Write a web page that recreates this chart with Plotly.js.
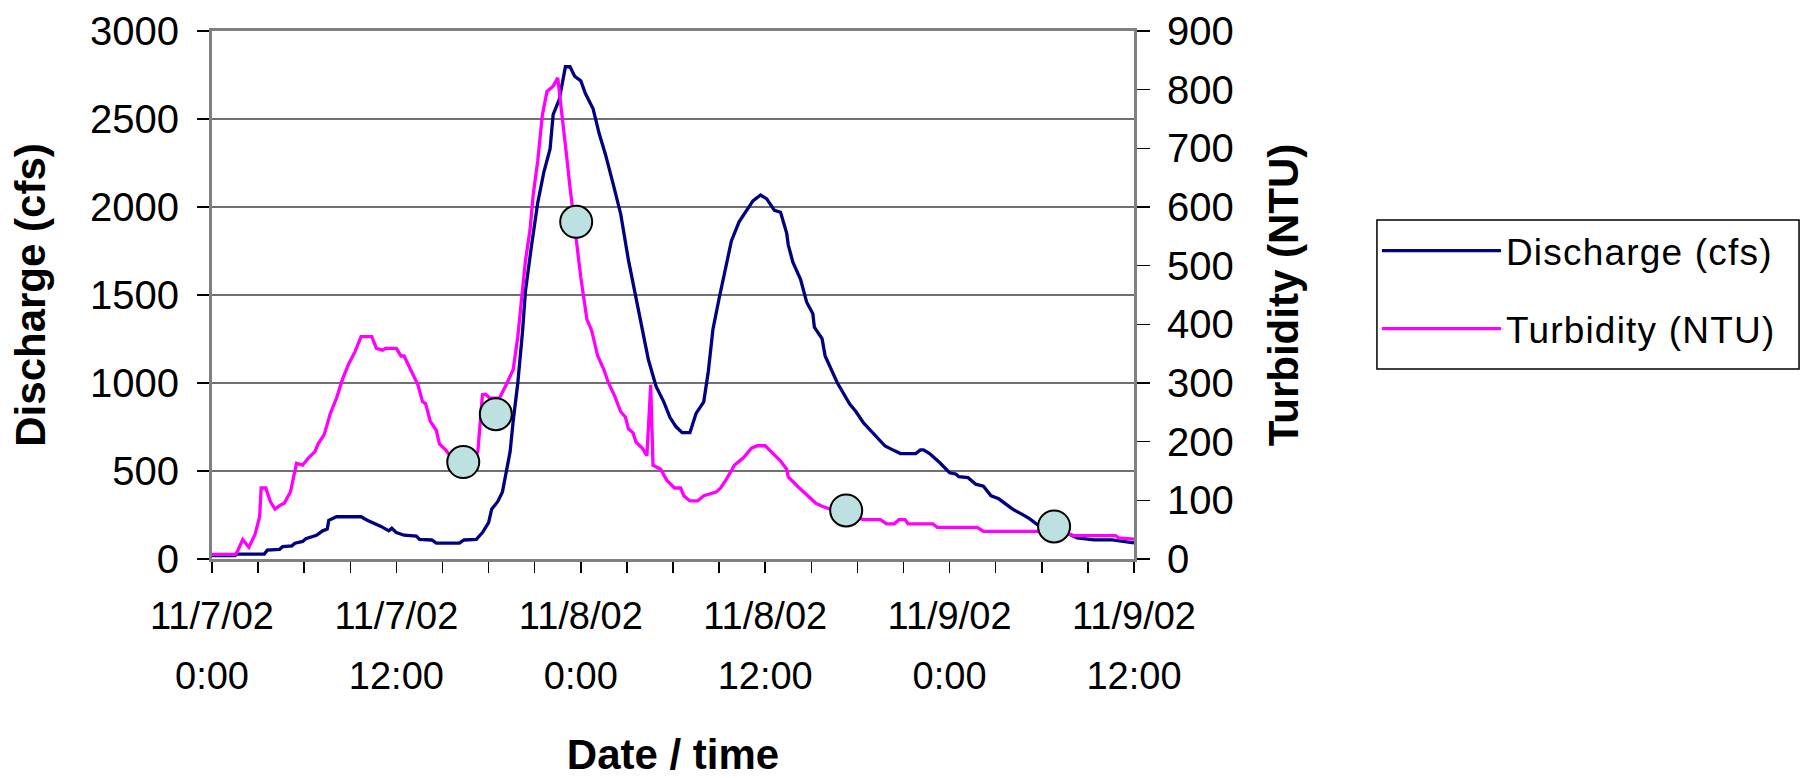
<!DOCTYPE html>
<html><head><meta charset="utf-8">
<script src="https://cdn.plot.ly/plotly-3.0.1.min.js"></script>
<style>html,body{margin:0;padding:0;background:#fff}#chart{width:1818px;height:778px}
.legendtext{letter-spacing:1.2px}</style>
</head><body><div id="chart"></div>
<script>
// Hours since 11/7/02 0:00
const dischargeHours = [0,1.5,1.6,3.4,3.6,4.4,4.6,5.2,5.4,5.9,6.1,6.8,7.2,7.5,7.6,8.1,9.7,10.1,11.0,11.5,11.7,12.0,12.5,13.3,13.5,14.3,14.6,16.1,16.4,17.2,17.6,18.0,18.2,18.6,18.9,19.1,19.4,19.6,19.9,20.2,20.4,20.8,21.2,21.6,22.0,22.2,22.6,23.0,23.3,23.6,24.0,24.3,24.8,25.2,25.6,26.1,26.6,27.1,27.8,28.4,28.9,29.4,29.8,30.2,30.6,31.1,31.5,32.0,32.3,32.6,33.0,33.4,33.8,34.3,34.8,35.2,35.7,36.1,36.6,37.0,37.4,37.5,37.8,38.3,38.7,39.1,39.2,39.7,39.9,40.7,41.5,41.9,42.4,43.0,43.8,44.3,44.8,45.8,46.1,46.3,46.7,47.4,48.0,48.4,48.6,49.2,49.7,50.2,50.7,51.2,51.6,52.1,52.7,53.2,53.7,54.5,55.3,55.8,56.3,57.4,58.6,59.4,60.0];
const dischargeCfs = [20,20,28,28,50,55,70,75,90,100,115,135,160,170,220,240,240,220,185,160,175,150,135,130,112,108,90,90,108,112,150,207,283,327,381,468,610,784,1000,1285,1524,1785,2025,2200,2330,2525,2612,2797,2797,2743,2717,2645,2558,2416,2300,2133,1959,1698,1393,1132,980,893,805,751,718,718,827,893,1067,1306,1480,1654,1807,1916,1981,2035,2068,2046,1981,1970,1850,1785,1687,1589,1459,1393,1317,1252,1154,1000,880,838,773,718,642,620,599,599,620,620,599,544,490,483,468,462,425,414,359,342,316,283,255,229,196,170,150,141,120,109,109,98,91];
const turbidityHours = [0,1.5,1.6,2.0,2.4,2.8,3.1,3.2,3.5,3.8,4.1,4.4,4.7,5.1,5.5,5.9,6.3,6.7,6.9,7.3,7.7,8.1,8.5,8.9,9.3,9.7,10.4,10.7,11.1,11.3,12.0,12.3,12.5,12.9,13.4,13.7,13.9,14.2,14.6,14.8,15.2,15.6,16.4,17.0,17.3,17.6,17.8,18.1,18.7,19.2,19.6,19.9,20.2,20.4,20.7,20.9,21.2,21.5,21.8,22.2,22.5,22.7,23.0,23.3,23.5,23.8,24.0,24.4,24.7,25.1,25.5,25.8,26.2,26.6,26.9,27.1,27.4,27.6,28.0,28.3,28.55,28.7,29.2,29.6,30.1,30.5,30.7,31.1,31.6,32.0,32.4,32.8,33.1,33.5,34.0,34.6,35.1,35.5,36.0,36.5,37.0,37.4,37.5,38.1,38.8,39.3,39.7,40.2,41.0,41.8,42.4,43.5,43.9,44.4,44.7,45.1,45.3,46.9,47.2,49.8,50.2,55.5,55.8,56.1,58.8,59.0,60.0];
const turbidityNtu = [8,8,10,33,20,42,72,121,121,98,85,91,95,114,163,160,173,183,196,212,248,274,307,333,353,379,379,359,356,359,359,346,346,323,297,268,265,235,219,196,186,173,165,170,183,280,281,274,274,300,323,379,451,509,562,620,679,757,797,806,820,777,705,633,588,522,480,408,390,346,323,300,278,251,242,222,215,199,189,176,297,160,153,134,121,121,108,99,99,108,111,114,121,137,160,173,189,193,193,180,167,153,140,124,108,95,90,85,78,72,67,67,60,60,67,67,60,60,54,54,47,47,42,40,40,36,34];
const sampleHours = [16.35,18.47,23.7,41.27,54.8];
const sampleCfs = [551,823,1916,276,185];
const dateTickHours = [0,12,24,36,48,60];
const dateTickLabels = ['11/7/02','11/7/02','11/8/02','11/8/02','11/9/02','11/9/02'];
const timeTickLabels = ['0:00','12:00','0:00','12:00','0:00','12:00'];

const FONT = '"Liberation Sans", Arial, sans-serif';
const data = [
  {x: dischargeHours, y: dischargeCfs, type:'scatter', mode:'lines', name:'Discharge (cfs)',
   line:{color:'#000080', width:3.3}, xaxis:'x', yaxis:'y', legendgroup:'a'},
  {x: turbidityHours, y: turbidityNtu, type:'scatter', mode:'lines', name:'Turbidity (NTU)',
   line:{color:'#FF00FF', width:3.3}, xaxis:'x', yaxis:'y2', legendgroup:'b'},
  {x: sampleHours, y: sampleCfs, type:'scatter', mode:'markers', name:'Samples', showlegend:false,
   marker:{size:32, color:'#BDE1E1', line:{color:'#000', width:2}}, xaxis:'x2', yaxis:'y'}
];
const layout = {
  width:1818, height:778,
  margin:{l:212, r:684, t:31, b:219},
  paper_bgcolor:'#fff', plot_bgcolor:'#fff',
  font:{family:FONT, color:'#000', size:38},
  showlegend:true,
  legend:{x:1.2635, y:0.642, xanchor:'left', yanchor:'top', borderwidth:0,
    bgcolor:'rgba(0,0,0,0)', font:{size:37, color:'#000'}, itemwidth:119, traceorder:'grouped', tracegroupgap:27},
  shapes:[{type:'rect', xref:'paper', yref:'paper', x0:1.2635, x1:1.7213, y0:0.3598, y1:0.642,
    line:{color:'#000', width:1.5}, fillcolor:'rgba(0,0,0,0)', layer:'above'}],
  xaxis:{range:[0,60], tickmode:'array', tickvals:dateTickHours, ticktext:dateTickLabels,
    ticks:'outside', ticklen:11, tickwidth:1.5, tickcolor:'#000',
    showline:true, linecolor:'#808080', linewidth:3, mirror:true,
    showgrid:false, zeroline:false, tickfont:{size:38}, ticklabelstandoff:10,
    minor:{dtick:3, ticks:'outside', ticklen:11, tickwidth:1.5, tickcolor:'#000', showgrid:false}},
  xaxis2:{overlaying:'x', anchor:'y', side:'bottom', range:[0,60], tickmode:'array',
    tickvals:dateTickHours, ticktext:timeTickLabels, ticks:'', showline:false, showgrid:false,
    zeroline:false, tickfont:{size:38}, ticklabelstandoff:91,
    title:{text:'<b>Date / time</b>', font:{size:42}, standoff:54}},
  yaxis:{range:[0,3000], tickmode:'linear', tick0:0, dtick:500, ticks:'outside', ticklen:12, tickwidth:1.5,
    tickcolor:'#000', showline:true, linecolor:'#808080', linewidth:3,
    showgrid:true, gridcolor:'#707070', gridwidth:1.5, zeroline:false, tickfont:{size:40},
    ticklabelstandoff:10, title:{text:'<b>Discharge (cfs)</b>', font:{size:42}, standoff:32}},
  yaxis2:{overlaying:'y', side:'right', anchor:'x', range:[0,900], tickmode:'linear', tick0:0, dtick:100,
    ticks:'outside', ticklen:13, tickwidth:1.5, tickcolor:'#000', showline:true, linecolor:'#808080',
    linewidth:3, showgrid:false, zeroline:false, tickfont:{size:40}, ticklabelstandoff:9,
    title:{text:'<b>Turbidity (NTU)</b>', font:{size:42}, standoff:36}},
  yaxis3:{overlaying:'y', side:'right', anchor:'x', range:[0,900], tickmode:'linear', tick0:0, dtick:100,
    ticks:'inside', ticklen:10, tickwidth:1.5, tickcolor:'#000', showticklabels:false,
    showline:false, showgrid:false, zeroline:false}
};
Plotly.newPlot('chart', data, layout, {displayModeBar:false, staticPlot:true});
</script></body></html>
